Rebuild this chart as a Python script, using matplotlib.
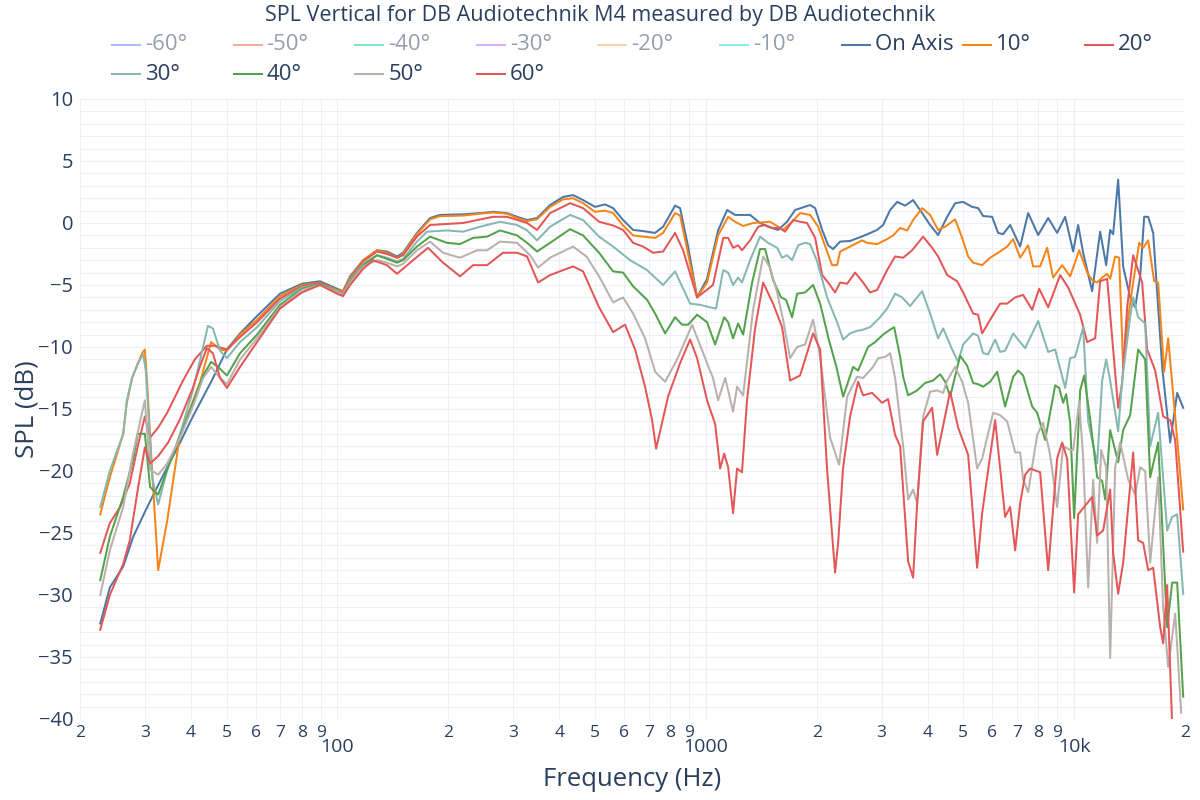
import matplotlib
matplotlib.use("Agg")
import matplotlib.pyplot as plt
from matplotlib.lines import Line2D

plt.rcParams['font.family'] = ['Open Sans', 'DejaVu Sans']

TEXT = '#2a3f5f'
GRID = '#ebf0f8'

# (frequency Hz, SPL dB)
on_axis = [
    (22.7, -32.3), (24.1, -29.4), (26.2, -27.7), (27.9, -25.3), (30.0, -23.3), (32.4, -21.3),
    (34.5, -19.7), (37.4, -17.7), (40.5, -15.6), (45.6, -12.7), (50.1, -10.2), (54.4, -8.9),
    (60.5, -7.5), (69.8, -5.7), (80.1, -4.9), (89.7, -4.7), (99.7, -5.3), (103.5, -5.5),
    (108.2, -4.3), (117.4, -3.0), (128.1, -2.2), (136.3, -2.3), (145.1, -2.7), (150.7, -2.4),
    (164.4, -0.8), (178.4, 0.4), (189.9, 0.65), (219.3, 0.7), (243.9, 0.8), (264.5, 0.9),
    (288.7, 0.8), (307.4, 0.5), (327.2, 0.24), (348.3, 0.4), (377.8, 1.45), (409.8, 2.1),
    (436.2, 2.25), (464.3, 1.85), (500.5, 1.3), (532.8, 1.5), (560.2, 1.2), (596.3, 0.24),
    (634.8, -0.56), (675.8, -0.65), (728.4, -0.8), (765.7, -0.3), (825.4, 1.4), (851.6, 1.2),
    (895.3, -1.9), (947.2, -6.0), (1008, -4.5), (1080, -0.6), (1143, 1.05), (1201, 0.65),
    (1319, 0.65), (1404, 0.0), (1476, -0.3), (1572, -0.56), (1662, 0.1), (1748, 1.05),
    (1920, 1.45), (1981, 1.2), (2070, -0.56), (2149, -1.8), (2216, -2.1), (2316, -1.5),
    (2465, -1.45), (2674, -1.05), (2918, -0.56), (3030, -0.16), (3166, 1.05), (3308, 1.7),
    (3477, 1.4), (3655, 1.85), (3867, 0.8), (4065, -0.16), (4273, -0.97), (4522, 0.5),
    (4753, 1.6), (4997, 1.7), (5286, 1.3), (5488, 1.2), (5662, 0.56), (5990, 0.5),
    (6219, -0.8), (6416, -0.9), (6704, -0.16), (7136, -1.9), (7502, 0.8), (7987, -0.97),
    (8502, 0.4), (8993, -0.8), (9455, 0.5), (9940, -2.3), (10255, -0.16), (10581, -2.4),
    (11193, -5.5), (11768, -0.7), (12218, -3.4), (12527, -0.56), (12764, -0.9), (13169, 3.5),
    (13587, -3.5), (14196, -6.0), (14647, -6.8), (15112, -4.3), (15495, 0.5), (15887, 0.5),
    (16392, -0.8), (17340, -11.6), (18230, -17.7), (19045, -13.7), (19773, -14.9),
]

deg10 = [
    (22.7, -23.5), (24.1, -20.5), (26.2, -17.0), (26.8, -14.5), (27.7, -12.5), (29.5, -10.5),
    (30.0, -10.2), (30.4, -12.7), (31.4, -20.0), (32.6, -28.0), (34.5, -24.0), (37.4, -17.0),
    (39.8, -15.0), (42.4, -12.8), (45.4, -9.6), (48.0, -10.2), (50.1, -10.3), (54.4, -9.0),
    (60.5, -7.8), (69.8, -5.9), (80.1, -5.0), (89.7, -4.8), (99.7, -5.4), (103.5, -5.5),
    (108.2, -4.4), (117.4, -3.0), (128.1, -2.2), (136.3, -2.4), (145.1, -2.8), (150.7, -2.5),
    (164.4, -0.9), (178.4, 0.3), (189.9, 0.55), (219.3, 0.6), (243.9, 0.75), (264.5, 0.85),
    (288.7, 0.75), (307.4, 0.4), (327.2, 0.15), (348.3, 0.3), (377.8, 1.3), (409.8, 1.9),
    (436.2, 2.0), (464.3, 1.6), (500.5, 0.9), (532.8, 1.0), (560.2, 0.8), (596.3, -0.2),
    (634.8, -1.0), (675.8, -1.1), (728.4, -1.2), (765.7, -0.8), (825.4, 0.8), (851.6, 0.6),
    (895.3, -2.5), (947.2, -6.0), (1008, -4.8), (1080, -1.0), (1150, 0.5), (1201, 0.1),
    (1263, -0.24), (1344, 0.0), (1495, 0.1), (1572, -0.3), (1621, -0.56), (1715, 0.1),
    (1803, 0.8), (1920, 0.65), (2019, -0.3), (2135, -2.3), (2202, -3.4), (2272, -3.4),
    (2316, -2.3), (2465, -1.9), (2657, -1.4), (2741, -1.6), (2918, -1.7), (3107, -1.3),
    (3226, -1.0), (3370, -0.4), (3521, -0.6), (3655, 0.24), (3867, 1.2), (4065, 0.65),
    (4273, -0.56), (4466, -0.3), (4753, 0.3), (4966, -1.2), (5156, -2.7), (5319, -3.2),
    (5627, -3.4), (5916, -2.8), (6219, -2.4), (6579, -1.9), (6831, -1.3), (7136, -2.8),
    (7502, -1.8), (7741, -3.5), (8087, -3.5), (8449, -2.0), (8771, -4.4), (9279, -3.4),
    (9755, -4.3), (10320, -2.2), (10849, -4.0), (11193, -4.6), (11548, -4.8), (11916, -4.4),
    (12294, -4.1), (12527, -4.5), (12925, -2.7), (13252, -2.8), (13587, -11.6), (14023, -7.6),
    (14465, -4.8), (15018, -1.6), (15398, -2.0), (15887, -1.4), (16495, -4.7), (16912, -4.8),
    (17558, -12.0), (18002, -9.3), (19165, -18.3), (19773, -23.1),
]

deg20 = [
    (22.7, -26.6), (24.1, -24.2), (25.7, -22.9), (27.3, -21.0), (28.7, -18.0), (30.0, -15.6),
    (31.0, -17.3), (32.6, -16.5), (34.5, -15.3), (38.1, -12.7), (41.0, -11.0), (44.2, -9.9),
    (46.5, -9.9), (50.1, -10.2), (54.4, -9.2), (60.5, -8.0), (69.8, -6.1), (80.1, -5.1),
    (89.7, -4.8), (99.7, -5.5), (103.5, -5.6), (108.2, -4.5), (117.4, -3.1), (128.1, -2.3),
    (136.3, -2.5), (145.1, -2.8), (150.7, -2.6), (164.4, -1.1), (178.4, -0.16), (219.3, 0.0),
    (264.5, 0.5), (288.7, 0.5), (327.2, 0.0), (348.3, -0.56), (377.8, 0.8), (428.1, 1.6),
    (464.3, 1.2), (513.2, 0.1), (560.2, -0.2), (596.3, -0.56), (634.8, -1.6), (675.8, -1.9),
    (719.3, -2.4), (765.7, -2.3), (825.4, -0.8), (867.8, -2.2), (947.2, -6.0), (995.7, -5.5),
    (1046, -5.0), (1115, -1.2), (1150, -1.2), (1186, -2.0), (1224, -1.8), (1254, -2.2),
    (1319, -1.4), (1387, -0.3), (1449, -0.16), (1514, -0.4), (1591, -0.4), (1642, -0.7),
    (1726, 0.24), (1803, 0.1), (1884, 0.0), (1981, -1.2), (2070, -4.2), (2149, -4.8),
    (2244, -5.6), (2316, -4.8), (2420, -4.9), (2543, -4.0), (2674, -4.8), (2793, -5.6),
    (2918, -5.4), (3107, -3.8), (3266, -2.7), (3434, -2.8), (3632, -2.2), (3891, -1.1),
    (4116, -2.0), (4273, -2.7), (4522, -4.2), (4813, -4.7), (4997, -5.6), (5319, -7.3),
    (5488, -7.4), (5627, -8.9), (5916, -7.8), (6297, -6.5), (6579, -6.5), (6917, -6.0),
    (7271, -5.8), (7693, -7.0), (8037, -5.3), (8502, -6.8), (9164, -4.2), (9634, -5.2),
    (10384, -7.4), (10849, -9.6), (11405, -9.3), (11768, -4.7), (12294, -4.5), (12764, -10.2),
    (13169, -14.9), (13503, -12.9), (13935, -6.8), (14465, -2.6), (15302, -4.8), (15788, -10.2),
    (16598, -11.9), (17449, -15.6), (18230, -15.9), (18809, -17.5), (19773, -26.5),
]

deg30 = [
    (22.7, -22.9), (24.1, -20.0), (26.2, -17.0), (26.8, -14.3), (27.7, -12.5), (28.7, -11.3),
    (29.7, -10.6), (30.2, -12.0), (31.4, -20.5), (32.6, -22.7), (34.5, -19.9), (37.4, -17.0),
    (40.5, -13.5), (42.4, -11.0), (44.5, -8.3), (45.9, -8.5), (48.0, -10.3), (50.1, -10.9),
    (54.4, -9.6), (60.5, -8.4), (69.8, -6.3), (80.1, -5.2), (89.7, -4.9), (99.7, -5.5),
    (103.5, -5.7), (108.2, -4.6), (117.4, -3.3), (128.1, -2.6), (136.3, -2.8), (145.1, -3.1),
    (150.7, -2.9), (164.4, -1.5), (175.1, -0.7), (198.4, -0.6), (219.3, -0.7), (243.9, -0.3),
    (276.3, 0.1), (307.4, -0.16), (327.2, -0.6), (348.3, -1.4), (377.8, -0.3), (428.1, 0.65),
    (464.3, 0.24), (513.2, -1.1), (560.2, -1.9), (623.0, -3.0), (692.9, -3.8), (765.7, -5.0),
    (825.4, -3.9), (906.6, -6.5), (965.1, -6.6), (1027, -6.8), (1066, -6.9), (1115, -3.8),
    (1150, -4.0), (1186, -5.0), (1224, -4.4), (1254, -4.8), (1319, -3.0), (1404, -1.1),
    (1476, -1.6), (1562, -2.0), (1611, -2.8), (1662, -2.6), (1715, -3.0), (1781, -1.8),
    (1860, -1.6), (1920, -1.7), (2006, -3.1), (2135, -6.0), (2272, -8.0), (2360, -9.4),
    (2465, -8.9), (2575, -8.7), (2674, -8.6), (2793, -8.4), (2974, -7.6), (3107, -6.9),
    (3266, -5.7), (3412, -6.0), (3587, -6.7), (3867, -5.5), (4065, -7.3), (4273, -9.3),
    (4410, -8.5), (4665, -10.2), (4843, -11.2), (4997, -9.8), (5319, -8.9), (5488, -9.1),
    (5662, -10.5), (5839, -10.6), (6104, -9.4), (6297, -10.4), (6497, -10.3), (6831, -8.9),
    (7363, -10.1), (7987, -7.9), (8502, -10.4), (8881, -10.2), (9455, -13.3), (9755, -10.9),
    (10065, -10.8), (10581, -8.4), (10917, -16.0), (11548, -19.4), (11916, -12.7), (12218, -11.0),
    (12527, -12.7), (13169, -16.8), (13503, -12.7), (14196, -7.6), (14465, -6.0), (14924, -7.6),
    (15592, -8.1), (16087, -18.0), (16912, -15.3), (17891, -24.8), (18459, -23.7), (19045, -23.5),
    (19773, -29.9),
]

deg40 = [
    (22.7, -28.8), (24.1, -25.3), (26.2, -22.1), (27.9, -19.0), (28.7, -17.0), (30.0, -17.0),
    (31.0, -21.3), (32.6, -21.9), (34.5, -19.9), (37.4, -17.2), (40.5, -14.5), (43.2, -12.3),
    (45.4, -11.2), (47.4, -11.6), (50.1, -12.3), (54.4, -10.5), (60.5, -9.0), (69.8, -6.6),
    (80.1, -5.3), (89.7, -4.9), (99.7, -5.6), (103.5, -5.8), (108.2, -4.7), (117.4, -3.4),
    (128.1, -2.6), (136.3, -2.9), (145.1, -3.2), (150.7, -3.0), (164.4, -1.9), (178.4, -1.1),
    (198.4, -1.6), (215.2, -1.7), (233.4, -1.2), (254.8, -1.1), (276.3, -0.6), (307.4, -1.0),
    (327.2, -1.6), (348.3, -2.3), (377.8, -1.6), (428.1, -0.5), (464.3, -1.0), (513.2, -2.4),
    (560.2, -3.9), (596.3, -4.0), (634.8, -5.1), (692.9, -6.2), (728.4, -7.3), (775.4, -8.9),
    (825.4, -7.6), (862.3, -8.2), (895.3, -8.2), (947.2, -7.4), (1008, -8.0), (1060, -9.8),
    (1122, -7.6), (1150, -8.0), (1186, -9.3), (1224, -8.1), (1263, -9.0), (1336, -4.8),
    (1404, -2.1), (1449, -2.1), (1523, -4.6), (1601, -6.0), (1652, -6.2), (1715, -7.6),
    (1770, -5.7), (1860, -5.6), (1956, -5.0), (2044, -6.5), (2162, -9.5), (2258, -11.5),
    (2360, -14.0), (2512, -11.6), (2591, -11.9), (2758, -10.0), (2882, -9.6), (3030, -9.0),
    (3166, -8.6), (3246, -8.4), (3370, -10.8), (3434, -12.4), (3543, -13.9), (3748, -13.5),
    (3940, -12.9), (4142, -12.7), (4328, -12.2), (4466, -12.8), (4607, -14.0), (4904, -10.7),
    (5123, -11.5), (5319, -12.9), (5488, -13.0), (5662, -13.2), (5916, -12.8), (6181, -12.0),
    (6497, -14.8), (6831, -12.4), (7048, -11.9), (7271, -12.3), (7693, -14.8), (7937, -15.3),
    (8344, -17.5), (8881, -13.1), (9106, -13.3), (9337, -14.5), (9514, -13.8), (9755, -16.1),
    (10002, -23.8), (10384, -13.5), (10647, -12.3), (11054, -15.8), (11548, -20.5), (11916, -20.8),
    (12142, -22.3), (12527, -16.7), (13169, -19.3), (13587, -16.7), (14196, -15.5), (14924, -10.2),
    (15592, -11.0), (16087, -20.5), (16912, -17.7), (17891, -32.6), (18459, -29.0), (19045, -29.0),
    (19773, -38.2),
]

deg50 = [
    (22.7, -30.0), (24.1, -26.4), (26.2, -22.9), (27.9, -18.5), (30.0, -14.3), (31.0, -19.9),
    (32.6, -20.3), (34.5, -19.4), (37.4, -17.3), (40.5, -14.8), (43.2, -12.5), (45.4, -11.6),
    (47.4, -12.3), (50.1, -13.0), (54.4, -11.0), (60.5, -9.3), (69.8, -6.8), (80.1, -5.4),
    (89.7, -5.0), (99.7, -5.6), (103.5, -5.8), (108.2, -4.8), (117.4, -3.5), (128.1, -3.0),
    (136.3, -3.2), (145.1, -3.5), (150.7, -3.3), (164.4, -2.2), (178.4, -1.5), (193.5, -2.4),
    (215.2, -2.8), (239.3, -2.2), (254.8, -2.2), (276.3, -1.5), (307.4, -1.6), (333.4, -2.6),
    (350.5, -3.6), (377.8, -2.8), (436.2, -1.9), (474.4, -2.7), (513.2, -4.3), (560.2, -6.4),
    (596.3, -6.0), (634.8, -7.3), (684.2, -9.3), (728.4, -12.0), (775.4, -12.8), (835.8, -11.0),
    (918.0, -8.2), (1008, -11.3), (1046, -12.5), (1080, -14.3), (1129, -12.5), (1186, -15.2),
    (1216, -13.2), (1263, -13.9), (1344, -7.0), (1431, -2.7), (1495, -3.6), (1562, -5.6),
    (1621, -7.8), (1694, -10.9), (1770, -10.0), (1860, -9.8), (1956, -7.8), (2044, -10.8),
    (2175, -17.3), (2301, -19.5), (2420, -14.0), (2575, -12.4), (2674, -12.5), (2846, -11.6),
    (2936, -10.9), (3068, -10.8), (3166, -10.5), (3266, -12.5), (3434, -18.0), (3543, -22.3),
    (3655, -21.5), (3748, -22.6), (3891, -15.6), (4065, -13.6), (4247, -13.5), (4410, -13.7),
    (4522, -12.7), (4753, -11.6), (4966, -12.8), (5156, -14.5), (5453, -19.8), (5627, -19.0),
    (6028, -15.3), (6297, -15.5), (6579, -16.0), (6917, -18.5), (7136, -18.5), (7271, -20.7),
    (7502, -21.7), (7937, -17.1), (8240, -16.1), (8608, -18.7), (8993, -22.9), (9337, -18.0),
    (9755, -18.3), (9940, -18.3), (10320, -14.4), (10581, -18.9), (10917, -29.4), (11263, -20.7),
    (11548, -25.8), (11842, -18.3), (12218, -19.7), (12527, -35.1), (12925, -19.7), (13335, -17.7),
    (14023, -20.7), (14647, -21.9), (15112, -19.7), (15592, -20.0), (16087, -27.4), (16912, -20.5),
    (17449, -31.0), (18002, -35.8), (18809, -31.5), (19528, -39.5),
]

deg60 = [
    (22.7, -32.8), (24.1, -30.0), (26.2, -27.5), (27.3, -25.6), (28.7, -21.5), (30.0, -18.1),
    (31.0, -19.4), (32.6, -18.8), (34.7, -17.7), (37.4, -15.8), (40.5, -13.3), (42.4, -11.5),
    (44.2, -10.1), (45.9, -10.5), (48.0, -12.5), (50.1, -13.3), (54.4, -11.6), (60.5, -9.6),
    (69.8, -6.9), (80.1, -5.6), (89.7, -5.0), (99.7, -5.7), (103.5, -5.9), (108.2, -5.0),
    (117.4, -3.7), (124.9, -3.0), (136.3, -3.4), (145.1, -4.1), (160.4, -3.0), (176.2, -2.0),
    (193.5, -3.2), (215.2, -4.3), (233.4, -3.4), (254.8, -3.4), (281.5, -2.4), (307.4, -2.4),
    (327.2, -2.7), (350.5, -4.8), (377.8, -4.2), (409.8, -3.8), (436.2, -3.5), (464.3, -3.9),
    (513.2, -6.8), (560.2, -8.8), (603.8, -8.2), (642.8, -10.2), (684.2, -13.2), (714.9, -15.9),
    (733.0, -18.2), (790.0, -14.0), (851.6, -11.3), (906.6, -9.4), (947.2, -10.9), (1008, -14.3),
    (1060, -16.2), (1094, -19.8), (1122, -18.6), (1150, -19.7), (1186, -23.4), (1216, -19.8),
    (1254, -20.1), (1294, -14.3), (1361, -8.5), (1431, -4.8), (1523, -6.5), (1611, -8.4),
    (1694, -12.7), (1803, -12.3), (1956, -8.9), (2044, -10.2), (2135, -19.9), (2244, -28.2),
    (2287, -25.8), (2360, -19.7), (2465, -15.6), (2591, -12.8), (2674, -13.9), (2828, -13.7),
    (3011, -14.5), (3126, -14.2), (3266, -17.1), (3370, -18.0), (3543, -27.3), (3655, -28.6),
    (3748, -22.6), (3891, -16.0), (4116, -14.9), (4247, -18.7), (4607, -13.6), (4843, -16.5),
    (5156, -18.7), (5453, -27.8), (5627, -23.4), (6104, -15.9), (6497, -23.7), (6704, -22.9),
    (6917, -26.4), (7136, -22.6), (7363, -20.3), (7597, -19.8), (8087, -20.1), (8502, -28.0),
    (8993, -19.0), (9279, -17.7), (9574, -19.0), (10002, -29.8), (10255, -23.5), (11193, -22.1),
    (11548, -25.2), (11991, -24.8), (12527, -21.5), (12764, -26.6), (13169, -29.9), (13587, -27.4),
    (14465, -18.5), (14924, -25.6), (15398, -25.8), (15887, -28.0), (16392, -27.8), (17125, -32.6),
    (17449, -33.9), (17891, -29.2), (18459, -40.5), (19773, -42.0),
]

visible = [
    ("On Axis", on_axis, '#4c78a8'),
    ("10°", deg10, '#f58518'),
    ("20°", deg20, '#e45756'),
    ("30°", deg30, '#86b8b0'),
    ("40°", deg40, '#54a24b'),
    ("50°", deg50, '#bab0ac'),
    ("60°", deg60, '#e45756'),
]
hidden = [
    ("-60°", '#b1b6fc'), ("-50°", '#f7aa9d'), ("-40°", '#7fe5ca'),
    ("-30°", '#d5b1fc'), ("-20°", '#ffd0ac'), ("-10°", '#8ce9f9'),
]

fig = plt.figure(figsize=(12, 8), dpi=100)
ax = fig.add_axes([80 / 1200, 81 / 800, 1105 / 1200, 620 / 800])

for name, pts, col in visible:
    f, v = zip(*pts)
    ax.plot(f, v, color=col, lw=1.45, solid_joinstyle='round')

ax.set_xscale('log')
ax.set_xlim(20, 20000)
ax.set_ylim(-40, 10)

ax.set_xticks([100, 1000, 10000])
ax.set_xticklabels(['100', '1000', '10k'])
minor = [m * 10 ** e for e in (1, 2, 3) for m in range(2, 10)] + [20000]
ax.set_xticks(minor, minor=True)
ax.set_xticklabels([str(m)[0] for m in minor], minor=True)
ax.set_yticks(range(-40, 11, 5))
ax.set_yticks(range(-40, 11, 1), minor=True)

ax.tick_params(axis='x', which='major', length=0, pad=14, labelsize=14, labelcolor=TEXT)
ax.tick_params(axis='x', which='minor', length=0, pad=4, labelsize=12.5, labelcolor=TEXT)
ax.tick_params(axis='y', which='both', length=0, pad=5, labelsize=14.5, labelcolor=TEXT)
ax.grid(which='both', color=GRID, lw=0.75)
ax.set_axisbelow(True)
for s in ax.spines.values():
    s.set_visible(False)

fig.text(632 / 1200, 1 - 780 / 800, 'Frequency (Hz)', ha='center', va='center',
         fontsize=18.5, color=TEXT)
fig.text(27 / 1200, 1 - 409 / 800, 'SPL (dB)', ha='center', va='center',
         rotation=90, fontsize=18.5, color=TEXT)
fig.text(0.5, 1 - 15 / 800, 'SPL Vertical for DB Audiotechnik M4 measured by DB Audiotechnik',
         ha='center', va='center', fontsize=15.5, color=TEXT)

# legend, plotly style (hidden traces greyed out)
entries = [(n, c, True) for n, c in hidden] + [(n, c, False) for n, _, c in visible]
for i, (name, col, off) in enumerate(entries):
    row, colno = divmod(i, 9)
    x0 = 110 + colno * 121.6
    y = 1 - (45 + row * 29) / 800
    fig.add_artist(Line2D([(x0 + 2) / 1200, (x0 + 30) / 1200], [y, y],
                          transform=fig.transFigure, color=col, lw=1.45))
    fig.text((x0 + 35) / 1200, y, name, ha='left', va='center', fontsize=16,
             color=TEXT, alpha=0.5 if off else 1.0)

fig.savefig('out.png', dpi=100)
